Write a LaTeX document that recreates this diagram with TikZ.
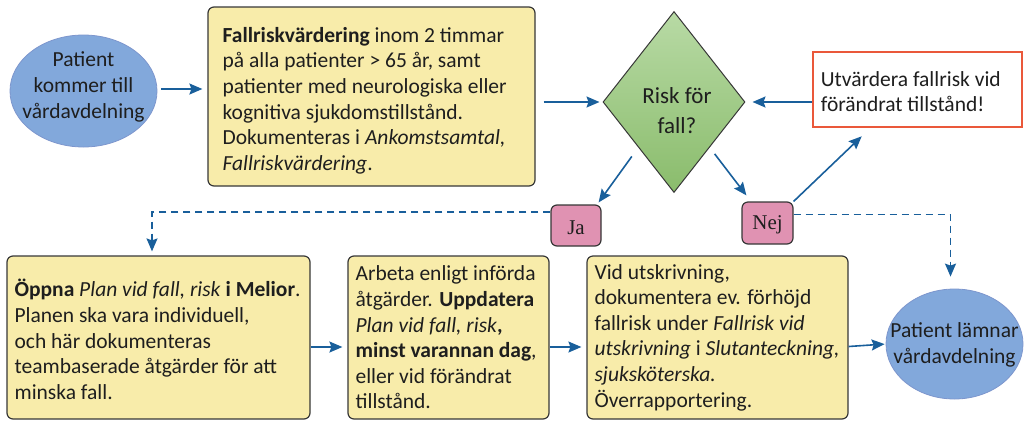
\documentclass[tikz,border=0pt]{standalone}
\usepackage{fontspec}
\setmainfont{Carlito}
\newfontfamily\jafont{Liberation Serif}
\usetikzlibrary{shapes.geometric,arrows.meta,calc}
\definecolor{ellblue}{RGB}{130,168,219}
\definecolor{ellline}{RGB}{125,150,205}
\definecolor{yel}{RGB}{248,236,170}
\definecolor{boxline}{RGB}{55,55,55}
\definecolor{dtop}{RGB}{184,218,165}
\definecolor{dbot}{RGB}{138,188,108}
\definecolor{pinkbox}{RGB}{224,146,178}
\definecolor{arrblue}{RGB}{25,95,155}
\definecolor{redline}{RGB}{234,88,58}
\definecolor{txtcol}{RGB}{30,30,30}
\tikzset{
  ell/.style={ellipse, draw=ellline, line width=0.8pt, fill=ellblue, inner sep=0pt},
  ybox/.style={rectangle, rounded corners=6pt, draw=boxline, line width=1.2pt, fill=yel, inner sep=0pt},
  pbox/.style={rectangle, rounded corners=6pt, draw=boxline, line width=1.2pt, fill=pinkbox, inner sep=0pt},
  txt/.style={align=left, inner sep=0pt, text=txtcol, font=\fontsize{21.5}{25.6}\selectfont},
  ctxt/.style={align=center, inner sep=0pt, text=txtcol, font=\fontsize{21.5}{25.6}\selectfont},
  jn/.style={inner sep=0pt, font=\jafont\fontsize{21}{24}\selectfont, text=txtcol},
  arr/.style={draw=arrblue, line width=1.6pt, -{Stealth[length=13pt,width=11pt,inset=2pt]}},
  dasharr/.style={arr, dash pattern=on 7pt off 5pt}
}
\begin{document}
\begin{tikzpicture}[x=1pt,y=-1pt]
\useasboundingbox (0,0) rectangle (1024,421);
% shapes
\node[ell, minimum width=147pt, minimum height=112pt] (start) at (83.5,91) {};
\node[ctxt] (starttxt) at (83.5,87) {Patient\\kommer till\\vårdavdelning};
\node[ybox, minimum width=327pt, minimum height=179pt] (b1) at (371.5,96.5) {};
\node[txt, anchor=west] (b1txt) at ($(b1.west)+(15,4)$) {\textbf{Fallriskvärdering} inom 2 timmar\\på alla patienter > 65 år, samt\\patienter med neurologiska eller\\kognitiva sjukdomstillstånd.\\Dokumenteras i \textit{Ankomstsamtal,}\\\textit{Fallriskvärdering}.};
\node[diamond, draw=boxline, line width=1pt, top color=dtop, bottom color=dbot, minimum width=142pt, minimum height=181pt, inner sep=0pt] (dia) at (674,102) {};
\node[ctxt, font=\fontsize{23}{30}\selectfont] (diatxt) at (677,111) {Risk för\\fall?};
\node[rectangle, draw=redline, line width=2.6pt, fill=white, minimum width=209pt, minimum height=75pt, inner sep=0pt] (red) at (917.5,89.5) {};
\node[txt, anchor=west] (redtxt) at ($(red.west)+(9,2)$) {Utvärdera fallrisk vid\\förändrat tillstånd!};
\node[pbox, minimum width=50pt, minimum height=41pt] (ja) at (576,225.5) {};
\node[jn] (jatxt) at (576,228) {Ja};
\node[pbox, minimum width=51pt, minimum height=42pt] (nej) at (767.5,223) {};
\node[jn] (nejtxt) at (767.5,225) {Nej};
\node[ybox, minimum width=303pt, minimum height=163pt] (bA) at (158.5,337.5) {};
\node[txt, anchor=west] (bAtxt) at ($(bA.west)+(8,2)$) {\textbf{Öppna} \textit{Plan vid fall, risk} \textbf{i Melior}.\\Planen ska vara individuell,\\och här dokumenteras\\teambaserade åtgärder för att\\minska fall.};
\node[ybox, minimum width=201pt, minimum height=163pt] (bB) at (448.5,337.5) {};
\node[txt, anchor=west] (bBtxt) at ($(bB.west)+(8,0)$) {Arbeta enligt införda\\åtgärder. \textbf{Uppdatera}\\\textit{Plan vid fall, risk}\textbf{,}\\\textbf{minst varannan dag},\\eller vid förändrat\\tillstånd.};
\node[ybox, minimum width=261pt, minimum height=163pt] (bC) at (717.5,337.5) {};
\node[txt, anchor=west] (bCtxt) at ($(bC.west)+(8,0)$) {Vid utskrivning,\\dokumentera ev. förhöjd\\fallrisk under \textit{Fallrisk vid}\\\textit{utskrivning} i \textit{Slutanteckning,}\\\textit{sjuksköterska.}\\Överrapportering.};
\node[ell, minimum width=137pt, minimum height=110pt] (end) at (954.5,344) {};
\node[ctxt] (endtxt) at (954.5,345) {Patient lämnar\\vårdavdelning};
% connectors
\draw[arr, shorten <=4pt, shorten >=5pt] ($(start.east)+(0,-2)$) -- ($(b1.west)+(0,-7.5)$);
\draw[arr, shorten <=8pt, shorten >=3pt] (b1.east |- dia.west) -- (dia.west);
\draw[arr, shorten >=7pt] (red.west |- dia.east) -- (dia.east);
\coordinate (jatip) at ($(ja.north east)+(-3,-2)$);
\draw[arr, shorten <=11pt] (dia.south west) -- (jatip);
\coordinate (nejtip) at ($(nej.north west)+(5,-6)$);
\draw[arr, shorten <=8pt] (dia.south east) -- (nejtip);
\coordinate (redtip) at ($(red.south west)+(50,8)$);
\draw[arr] (nej.north east) -- (redtip);
\draw[dasharr] ($(ja.north west)+(0,7.5)$) -| ($(bA.north)+(-6.5,-4)$);
\draw[dasharr] ($(nej.north east)+(0,13)$) -| ($(end.north)+(-4,-12)$);
\draw[arr, shorten >=5pt] ($(bA.east)+(0,9.5)$) -- ($(bB.west)+(0,9.5)$);
\draw[arr, shorten >=5pt] ($(bB.east)+(0,9.5)$) -- ($(bC.west)+(0,9.5)$);
\draw[arr, shorten >=1pt] ($(bC.east)+(0,9)$) -- (end.west);
\end{tikzpicture}
\end{document}
